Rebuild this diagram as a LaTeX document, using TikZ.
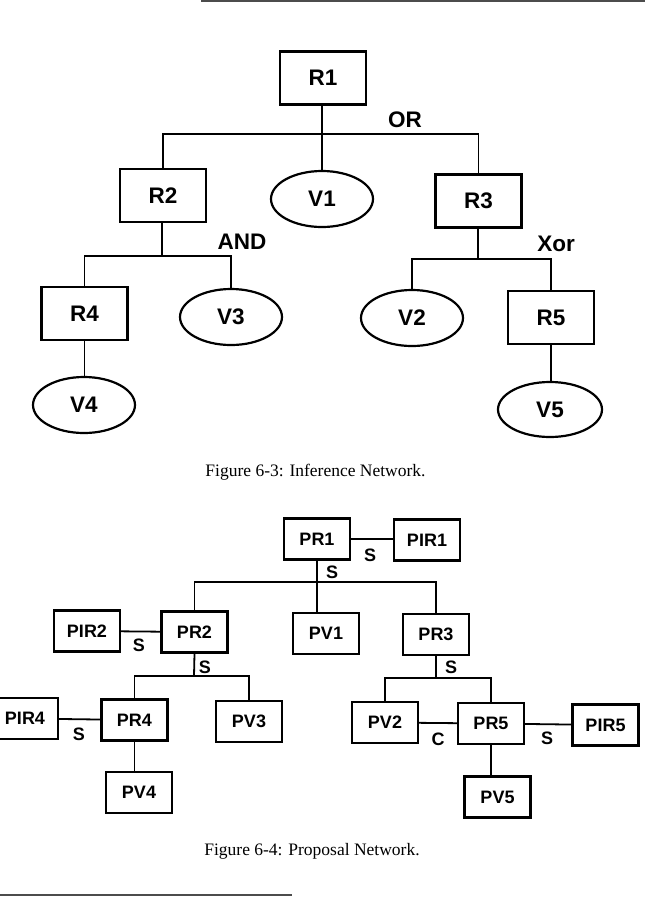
\documentclass[tikz,border=0pt]{standalone}
\usepackage{fontspec}
\setmainfont{Liberation Serif}
\setsansfont{Liberation Sans}
\usepackage{tikz}
\usetikzlibrary{shapes.geometric, positioning}

\newcommand{\toplbl}{\sffamily\bfseries\fontsize{22.5}{24}\selectfont}
\newcommand{\botlbl}{\sffamily\bfseries\fontsize{18}{20}\selectfont}

\begin{document}
\begin{tikzpicture}[
    x=1pt, y=-1pt,
    rulebox/.style={rectangle, draw=black, line width=2.2pt, minimum width=86pt, minimum height=53pt, inner sep=0pt, font=\toplbl},
    valnode/.style={ellipse, draw=black, line width=2.2pt, minimum width=102pt, minimum height=56pt, inner sep=0pt, font=\toplbl},
    propbox/.style={rectangle, draw=black, line width=2.2pt, minimum width=66pt, minimum height=41pt, inner sep=0pt, font=\botlbl},
    link/.style={line width=1.8pt},
    optag/.style={inner sep=0pt, font=\toplbl},
    stag/.style={inner sep=0pt, font=\botlbl},
    figcap/.style={inner sep=0pt, anchor=base, font=\fontsize{17.5}{20}\selectfont},
    pagerule/.style={line width=2pt, black!70}
]
\useasboundingbox (0,0) rectangle (645,897);

% page rules
\coordinate (rtopa) at (201,1);
\coordinate (rtopb) at (645,1);
\coordinate (rbota) at (0,895);
\coordinate (rbotb) at (292,895);
\draw [pagerule] (rtopa) -- (rtopb);
\draw [pagerule] (rbota) -- (rbotb);

% Inference network
\node (R1) [rulebox] at (323,78) {R1};
\node (R2) [rulebox] at (163,195.5) {R2};
\node (V1) [valnode] at (322,199) {V1};
\node (R3) [rulebox] at (478.5,201) {R3};
\node (R4) [rulebox] at (84.5,313.5) {R4};
\node (V3) [valnode] at (231,317) {V3};
\node (V4) [valnode] at (84,405) {V4};
\node (V2) [valnode] at (412,318) {V2};
\node (R5) [rulebox] at (551,317.5) {R5};
\node (V5) [valnode, minimum width=104pt, minimum height=55pt] at (550,409.5) {V5};

\node (tOR) [optag] at (405,120) {OR};
\node (tAND) [optag] at (242,242) {AND};
\node (tXor) [optag] at (556,244) {Xor};

\coordinate (j1) at (322,134);
\coordinate (j2) at (162,256);
\coordinate (j3) at (478,259);

\draw [link] (R1.south -| j1) -- (V1.north -| j1);
\draw [link] (R2.north) |- (j1) -| (R3.north);
\draw [link] (R2.south -| j2) -- (j2);
\draw [link] (R4.north) |- (j2) -| (V3.north);
\draw [link] (R4.south) -- (R4.south |- V4.north);
\draw [link] (R3.south -| j3) -- (j3);
\draw [link] (V2.north) |- (j3) -| (R5.north);
\draw [link] (R5.south) -- (R5.south |- V5.north);

\node (cap1) [figcap] at (315.5,476) {Figure 6-3: Inference Network.};

% Proposal network
\node (PR1) [propbox] at (317,539) {PR1};
\node (PIR1) [propbox] at (427,540) {PIR1};
\node (PIR2) [propbox] at (87,631) {PIR2};
\node (PR2) [propbox] at (194.5,632) {PR2};
\node (PV1) [propbox] at (326,633.5) {PV1};
\node (PR3) [propbox] at (436,634.5) {PR3};
\node (PIR4) [propbox] at (25,718.5) {PIR4};
\node (PR4) [propbox] at (134.5,720) {PR4};
\node (PV3) [propbox] at (249,721.5) {PV3};
\node (PV2) [propbox] at (385,722.5) {PV2};
\node (PR5) [propbox] at (491,723.5) {PR5};
\node (PIR5) [propbox] at (605.5,725) {PIR5};
\node (PV4) [propbox] at (139,792.5) {PV4};
\node (PV5) [propbox] at (497.5,797) {PV5};

\coordinate (k1) at (317,582);
\coordinate (k2) at (194,676);
\coordinate (k3) at (436,678);

\draw [link] (PR1.east) -- (PR1.east -| PIR1.west);
\draw [link] (PR1.south) -- (PR1.south |- PV1.north);
\draw [link] (PR2.north) |- (k1) -| (PR3.north);
\draw [link] (PIR2) -- (PR2);
\draw [link] (PR2.south) -- (k2);
\draw [link] (PR4.north) |- (k2) -| (PV3.north);
\draw [link] (PR3.south) -- (k3);
\draw [link] (PV2.north) |- (k3) -| (PR5.north);
\draw [link] (PIR4) -- (PR4);
\draw [link] (PV2) -- (PR5);
\draw [link] (PR5) -- (PIR5);
\draw [link] (PR4.south) -- (PR4.south |- PV4.north);
\draw [link] (PR5.south) -- (PR5.south |- PV5.north);

\node (s1) [stag] at (370,555) {S};
\node (s2) [stag] at (332,572) {S};
\node (s3) [stag] at (139,645) {S};
\node (s4) [stag] at (205,667) {S};
\node (s5) [stag] at (451,667) {S};
\node (s6) [stag] at (79,734) {S};
\node (c1) [stag] at (438,739) {C};
\node (s7) [stag] at (547,738) {S};

\node (cap2) [figcap] at (312,855) {Figure 6-4: Proposal Network.};

\end{tikzpicture}
\end{document}
